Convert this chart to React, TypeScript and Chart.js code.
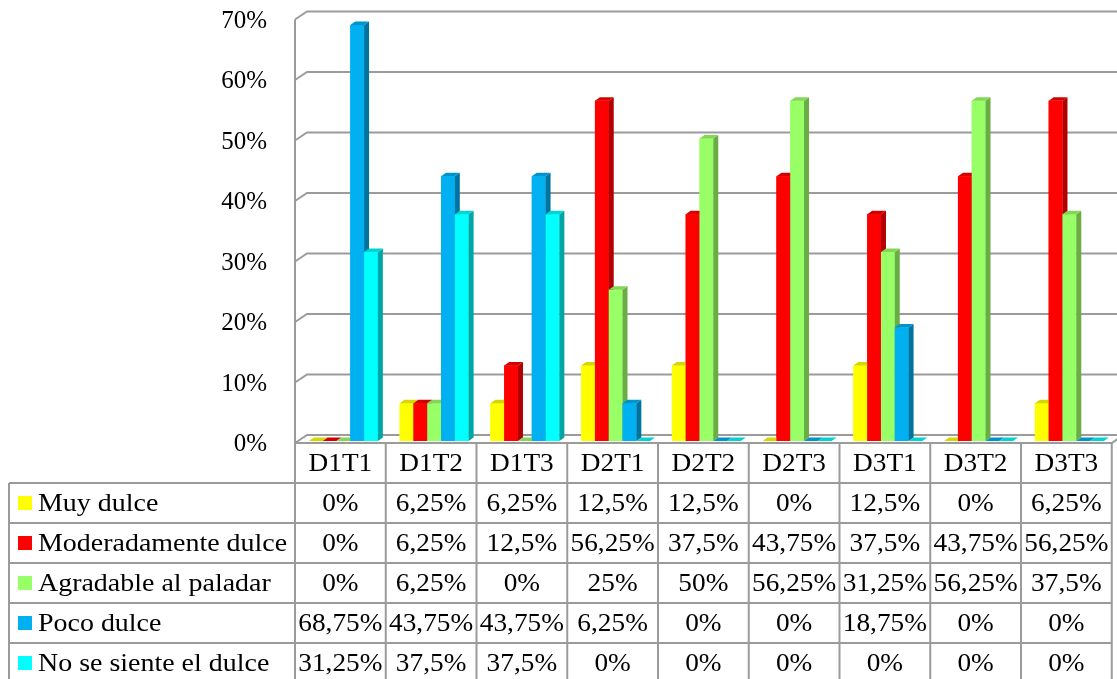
import { useEffect, useRef } from "react";
import Chart from "chart.js/auto";

const categories = ["D1T1", "D1T2", "D1T3", "D2T1", "D2T2", "D2T3", "D3T1", "D3T2", "D3T3"];
const seriesNames = ["Muy dulce", "Moderadamente dulce", "Agradable al paladar", "Poco dulce", "No se siente el dulce"];
const muyDulce = [0, 6.25, 6.25, 12.5, 12.5, 0, 12.5, 0, 6.25];
const moderadamenteDulce = [0, 6.25, 12.5, 56.25, 37.5, 43.75, 37.5, 43.75, 56.25];
const agradablePaladar = [0, 6.25, 0, 25, 50, 56.25, 31.25, 56.25, 37.5];
const pocoDulce = [68.75, 43.75, 43.75, 6.25, 0, 0, 18.75, 0, 0];
const noSeSiente = [31.25, 37.5, 37.5, 0, 0, 0, 0, 0, 0];
const seriesValues = [muyDulce, moderadamenteDulce, agradablePaladar, pocoDulce, noSeSiente];
const yTicks = [0, 10, 20, 30, 40, 50, 60, 70];

const frontColors = ["#FFFF00", "#FF0000", "#99FF66", "#00B0F0", "#00FFFF"];
const sideColors = ["#B5B500", "#B00000", "#6AAD45", "#0074A0", "#00A6A6"];
const topColors = ["#D6D600", "#D40000", "#82D856", "#0094CC", "#00D4D4"];

const FONT = '"Liberation Serif", "Times New Roman", serif';
const GRID = "#9b9b9b";
const DXF = -3, DYF = 2; // front plane offset from bar plane
const DXB = 9, DYB = -6; // back plane offset
const BDX = 5, BDY = -3.5; // bar depth
const ROW_H = 40;
const TABLE_LEFT = 9;
const STRETCH = 1.05;
const NAME_STRETCH = 1.075;

function fmt(v: number) {
  return String(v).replace(".", ",") + "%";
}

function text(ctx: CanvasRenderingContext2D, s: string, x: number, y: number, align: CanvasTextAlign, sx: number) {
  ctx.save();
  ctx.translate(x, y);
  ctx.scale(sx, 1);
  ctx.textAlign = align;
  ctx.fillText(s, 0, 0);
  ctx.restore();
}

const threeD = {
  id: "threeD",
  beforeDatasetsDraw(chart: any) {
    const ctx: CanvasRenderingContext2D = chart.ctx;
    const area = chart.chartArea;
    const ys = chart.scales.y;
    const fl = area.left + DXF;
    const fr = area.right + DXF;
    const bl = area.left + DXB;
    ctx.save();
    ctx.strokeStyle = GRID;
    ctx.lineWidth = 2;
    for (const t of yTicks) {
      const py = ys.getPixelForValue(t);
      ctx.beginPath();
      ctx.moveTo(fl, py + DYF);
      ctx.lineTo(bl, py + DYB);
      ctx.lineTo(chart.width + 5, py + DYB);
      ctx.stroke();
    }
    const y0 = ys.getPixelForValue(0);
    const yTop = ys.getPixelForValue(yTicks[yTicks.length - 1]);
    ctx.beginPath();
    ctx.moveTo(fl, yTop + DYF);
    ctx.lineTo(fl, y0 + DYF);
    ctx.lineTo(fr, y0 + DYF);
    ctx.lineTo(fr + (DXB - DXF), y0 + DYB);
    ctx.stroke();
    ctx.fillStyle = "#000";
    ctx.font = `25px ${FONT}`;
    ctx.textBaseline = "middle";
    for (const t of yTicks) {
      const py = ys.getPixelForValue(t);
      text(ctx, `${t}%`, 267, py + DYF + 1.5, "right", 1);
    }
    ctx.restore();
  },
  afterDatasetsDraw(chart: any) {
    const ctx: CanvasRenderingContext2D = chart.ctx;
    ctx.save();
    for (let i = 0; i < seriesNames.length; i++) {
      const meta = chart.getDatasetMeta(i);
      meta.data.forEach((el: any) => {
        const { x, y, base, width } = el.getProps(["x", "y", "base", "width"], true);
        const l = x - width / 2;
        const r = x + width / 2;
        const top = Math.min(y, base);
        const bot = Math.max(y, base);
        ctx.fillStyle = frontColors[i];
        ctx.fillRect(l, top, r - l, bot - top);
        ctx.fillStyle = sideColors[i];
        ctx.beginPath();
        ctx.moveTo(r, top);
        ctx.lineTo(r + BDX, top + BDY);
        ctx.lineTo(r + BDX, bot + BDY);
        ctx.lineTo(r, bot);
        ctx.closePath();
        ctx.fill();
        ctx.fillStyle = topColors[i];
        ctx.beginPath();
        ctx.moveTo(l, top);
        ctx.lineTo(l + BDX, top + BDY);
        ctx.lineTo(r + BDX, top + BDY);
        ctx.lineTo(r, top);
        ctx.closePath();
        ctx.fill();
      });
    }
    ctx.restore();
  },
  afterDraw(chart: any) {
    const ctx: CanvasRenderingContext2D = chart.ctx;
    const area = chart.chartArea;
    const ys = chart.scales.y;
    const xs = chart.scales.x;
    const fl = area.left + DXF;
    const fr = area.right + DXF;
    const colW = (area.right - area.left) / categories.length;
    const headTop = ys.getPixelForValue(0) + DYF;
    const bodyTop = headTop + ROW_H;
    const bottom = bodyTop + ROW_H * seriesNames.length;
    ctx.save();
    ctx.strokeStyle = GRID;
    ctx.lineWidth = 2;
    ctx.beginPath();
    for (let k = 0; k <= seriesNames.length; k++) {
      const yy = bodyTop + k * ROW_H;
      ctx.moveTo(TABLE_LEFT, yy);
      ctx.lineTo(fr, yy);
    }
    ctx.moveTo(TABLE_LEFT, bodyTop);
    ctx.lineTo(TABLE_LEFT, bottom);
    for (let c = 0; c <= categories.length; c++) {
      const xx = fl + c * colW;
      ctx.moveTo(xx, headTop);
      ctx.lineTo(xx, bottom);
    }
    ctx.stroke();
    ctx.fillStyle = "#000";
    ctx.font = `26px ${FONT}`;
    ctx.textBaseline = "middle";
    categories.forEach((c, ci) => {
      const cx = xs.getPixelForValue(ci) + DXF;
      text(ctx, c, cx, headTop + ROW_H / 2 + 1, "center", STRETCH);
    });
    seriesNames.forEach((name, si) => {
      const ry = bodyTop + si * ROW_H;
      ctx.fillStyle = frontColors[si];
      ctx.fillRect(18, ry + 13, 14, 14);
      ctx.fillStyle = "#000";
      text(ctx, name, 38, ry + ROW_H / 2 + 1, "left", NAME_STRETCH);
      seriesValues[si].forEach((v, ci) => {
        const cx = xs.getPixelForValue(ci) + DXF;
        text(ctx, fmt(v), cx, ry + ROW_H / 2 + 1, "center", STRETCH);
      });
    });
    ctx.restore();
  },
};

export default function App() {
  const ref = useRef<HTMLCanvasElement | null>(null);
  useEffect(() => {
    document.body.style.margin = "0";
    const canvas = ref.current!;
    const chart = new Chart(canvas, {
      type: "bar",
      data: {
        labels: categories,
        datasets: seriesNames.map((n, i) => ({
          label: n,
          data: seriesValues[i],
          backgroundColor: frontColors[i],
          borderWidth: 0,
          categoryPercentage: 0.76,
          barPercentage: 1,
        })),
      },
      options: {
        animation: false,
        responsive: false,
        devicePixelRatio: 1,
        layout: { padding: { left: 298, right: 2.25, top: 17.5, bottom: 238 } },
        plugins: { legend: { display: false }, tooltip: { enabled: false }, title: { display: false } },
        scales: {
          x: { display: false, type: "category" },
          y: { display: false, min: 0, max: 70 },
        },
      },
      plugins: [threeD],
    });
    return () => chart.destroy();
  }, []);
  return (
    <div style={{ position: "fixed", left: 0, top: 0, width: 1117, height: 679, background: "#fff" }}>
      <canvas ref={ref} width={1117} height={679} style={{ width: 1117, height: 679, display: "block" }} />
    </div>
  );
}
